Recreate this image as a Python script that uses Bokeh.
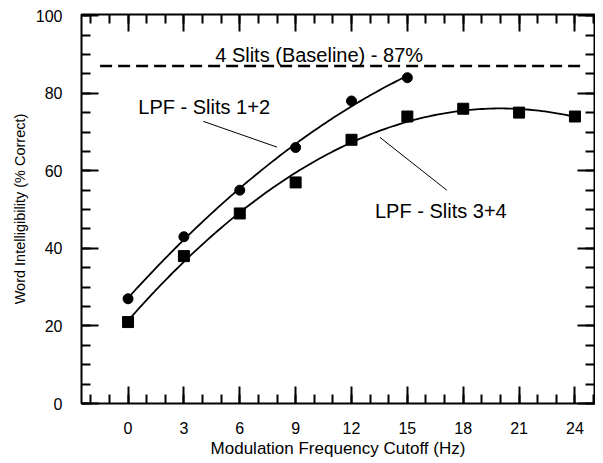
import numpy as np
from bokeh.plotting import figure
from bokeh.models import LinearAxis, FixedTicker, Label, Range1d
from bokeh.embed import file_html
from bokeh.resources import INLINE

# ---- data ----
x_slits12 = [0, 3, 6, 9, 12, 15]
y_slits12 = [27, 43, 55, 66, 78, 84]
x_slits34 = [0, 3, 6, 9, 12, 15, 18, 21, 24]
y_slits34 = [21, 38, 49, 57, 68, 74, 76, 75, 74]
baseline = 87
x_major_ticks = [0, 3, 6, 9, 12, 15, 18, 21, 24]
x_minor_ticks = list(range(-2, 26))
y_major_ticks = [0, 20, 40, 60, 80, 100]
y_minor_ticks = list(range(0, 101, 5))

FONT = "Liberation Sans"

p = figure(width=595, height=460, output_backend="svg", toolbar_location=None,
           x_range=Range1d(-2.5, 25.05), y_range=Range1d(0, 100.3),
           x_axis_location=None, y_axis_location=None,
           min_border_left=81, min_border_right=1, min_border_top=14, min_border_bottom=56)
p.grid.visible = False
p.outline_line_color = "black"
p.outline_line_width = 2
p.background_fill_color = "white"
p.border_fill_color = "white"


def style(ax):
    ax.major_tick_in = 17
    ax.major_tick_out = 0
    ax.minor_tick_in = 9
    ax.minor_tick_out = 0
    ax.major_tick_line_width = 2
    ax.minor_tick_line_width = 2
    ax.axis_line_color = None
    ax.major_label_text_font = FONT
    ax.major_label_text_font_size = "16px"
    ax.major_label_text_color = "black"
    ax.axis_label_text_font = FONT
    ax.axis_label_text_font_style = "normal"
    ax.axis_label_text_color = "black"


xb = LinearAxis(ticker=FixedTicker(ticks=x_major_ticks, minor_ticks=x_minor_ticks),
                axis_label="Modulation Frequency Cutoff (Hz)")
style(xb)
xb.major_label_standoff = 18
xb.axis_label_standoff = 2
xb.axis_label_text_font_size = "17px"
p.add_layout(xb, "below")

yl = LinearAxis(ticker=FixedTicker(ticks=y_major_ticks, minor_ticks=y_minor_ticks),
                axis_label="Word Intelligibility (% Correct)")
style(yl)
yl.major_label_standoff = 19
yl.axis_label_standoff = 5
yl.axis_label_text_font_size = "14.5px"
p.add_layout(yl, "left")


# mirrored tick marks on the top and right (no labels)
def tick_only_axis(minor_positions, length):
    ax = LinearAxis(ticker=FixedTicker(ticks=[], minor_ticks=minor_positions))
    ax.axis_line_color = None
    ax.major_tick_line_color = None
    ax.minor_tick_in = length
    ax.minor_tick_out = 0
    ax.minor_tick_line_width = 2
    return ax


p.add_layout(tick_only_axis(x_minor_ticks, 9), "above")
p.add_layout(tick_only_axis(x_major_ticks, 17), "above")
p.add_layout(tick_only_axis(y_minor_ticks, 9), "right")
p.add_layout(tick_only_axis(y_major_ticks, 17), "right")

# baseline dashed line
p.line(x=[-1.5, 24.6], y=[baseline, baseline], line_color="black",
       line_width=2.5, line_dash="12 6")

# fitted curves (least-squares quadratic through the data)
c12 = np.polyfit(x_slits12, y_slits12, 2)
xf12 = np.linspace(min(x_slits12), max(x_slits12), 100)
p.line(xf12, np.polyval(c12, xf12), line_color="black", line_width=1.8)
c34 = np.polyfit(x_slits34, y_slits34, 2)
xf34 = np.linspace(min(x_slits34), max(x_slits34), 150)
p.line(xf34, np.polyval(c34, xf34), line_color="black", line_width=1.8)

p.scatter(x_slits12, y_slits12, marker="circle", size=10, color="black")
p.scatter(x_slits34, y_slits34, marker="square", size=11, color="black")

# annotations
ann = dict(text_font=FONT, text_font_size="20px", text_baseline="alphabetic",
           text_color="black")
p.add_layout(Label(x=4.68, y=89.9, text="4 Slits (Baseline) - 87%", **ann))
p.add_layout(Label(x=0.55, y=76.5, text="LPF - Slits 1+2", **ann))
p.add_layout(Label(x=13.26, y=49.6, text="LPF - Slits 3+4", **ann))
p.line(x=[4.04, 8.0], y=[72.75, 66.1], line_color="black", line_width=1)
p.line(x=[13.53, 17.12], y=[68.6, 55.0], line_color="black", line_width=1)

open("out.html", "w").write(file_html(p, INLINE))
